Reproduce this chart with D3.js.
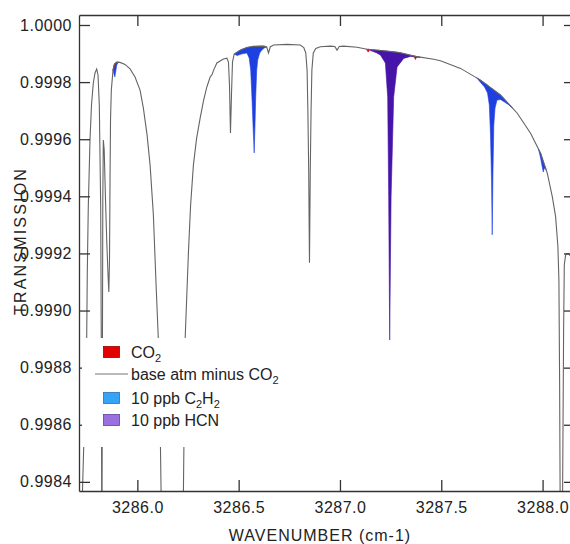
<!DOCTYPE html>
<html>
<head>
<meta charset="utf-8">
<title>Transmission</title>
<script src="https://cdn.jsdelivr.net/npm/d3@7"></script>
<style>
body { margin:0; background:#fff; }
text { font-family: Arial, "Liberation Sans", Helvetica, sans-serif; fill:#222; }
.axis path, .axis line { stroke:#333; stroke-width:1.3; }
</style>
</head>
<body>
<svg id="chart" width="570" height="544"></svg>
<script>
//---- data ----
var xTicks = [3286.0, 3286.5, 3287.0, 3287.5, 3288.0]
var yTicks = [0.9984, 0.9986, 0.9988, 0.9990, 0.9992, 0.9994, 0.9996, 0.9998, 1.0000]

// gray trace: base atm minus CO2
var baseWn = [3285.7144,3285.7292,3285.7499,3285.7529,3285.7578,3285.7662,3285.7737,3285.7826,3285.7910,3285.7994,
  3285.8058,3285.8122,3285.8191,3285.8231,3285.8246,3285.8270,3285.8295,3285.8320,3285.8364,3285.8428,
  3285.8488,3285.8552,3285.8592,3285.8626,3285.8651,3285.8676,3285.8715,3285.8799,3285.8873,3285.8982,
  3285.9145,3285.9392,3285.9639,3285.9886,3286.0133,3286.0297,3286.0479,3286.0628,3286.0791,3286.0924,
  3286.1038,3286.1122,3286.1171,3286.1221,3286.1715,3286.2209,3286.2273,3286.2357,3286.2520,3286.2629,
  3286.2767,3286.2926,3286.3099,3286.3272,3286.3430,3286.3593,3286.3677,3286.3766,3286.3924,3286.4087,
  3286.4250,3286.4418,3286.4497,3286.4547,3286.4596,3286.4645,3286.4695,3286.4779,3286.4927,3286.5075,
  3286.5407,3286.5718,3286.6212,3286.6385,3286.6474,3286.6558,3286.6721,3286.7383,3286.8041,3286.8214,
  3286.8312,3286.8377,3286.8416,3286.8456,3286.8495,3286.8535,3286.8574,3286.8614,3286.8683,3286.8807,
  3286.9029,3286.9523,3286.9746,3286.9854,3286.9968,3287.0180,3287.0843,3287.1337,3287.2157,3287.2982,
  3287.3724,3287.4628,3287.4959,3287.5948,3287.6936,3287.7924,3287.8750,3287.9407,3287.9901,3288.0232,
  3288.0479,3288.0643,3288.0756,3288.0806,3288.0840,3288.0865,3288.0914,3288.0988,3288.1038,3288.1072,
  3288.1137,3288.1260,3288.1384,3288.1483,3288.1631]
var baseT = [0.997917,0.998368,0.998897,0.999132,0.999363,0.999597,0.999720,0.999797,0.999832,0.999846,
  0.999825,0.999720,0.999363,0.998687,0.997987,0.998687,0.999387,0.999597,0.999562,0.999387,
  0.999247,0.999125,0.999065,0.999177,0.999457,0.999667,0.999772,0.999842,0.999863,0.999870,
  0.999869,0.999862,0.999846,0.999818,0.999772,0.999709,0.999615,0.999510,0.999335,0.999090,
  0.998897,0.998617,0.998368,0.998127,0.997637,0.998127,0.998368,0.998897,0.999202,0.999370,
  0.999510,0.999604,0.999674,0.999737,0.999783,0.999818,0.999825,0.999842,0.999867,0.999874,
  0.999881,0.999884,0.999870,0.999790,0.999622,0.999755,0.999870,0.999898,0.999905,0.999912,
  0.999921,0.999925,0.999926,0.999923,0.999902,0.999923,0.999930,0.999932,0.999930,0.999921,
  0.999902,0.999842,0.999702,0.999492,0.999167,0.999492,0.999702,0.999842,0.999902,0.999918,
  0.999924,0.999926,0.999925,0.999912,0.999925,0.999926,0.999922,0.999915,0.999910,0.999903,
  0.999890,0.999880,0.999875,0.999848,0.999807,0.999755,0.999691,0.999621,0.999551,0.999481,
  0.999399,0.999329,0.999224,0.999107,0.998757,0.998368,0.997812,0.998368,0.998932,0.999160,
  0.999195,0.999200,0.999191,0.999142,0.998967]

// filled absorption: [wavenumber, upper T, lower T]
var c2h2Lines = [
  [[3285.8799,0.999842,0.999842],[3285.8849,0.999860,0.999828],[3285.8888,0.999865,0.999818],
   [3285.8928,0.999867,0.999835],[3285.8982,0.999870,0.999860],[3285.9071,0.999870,0.999870]],
  [[3286.4779,0.999898,0.999898],[3286.4927,0.999905,0.999893],[3286.5125,0.999914,0.999898],
   [3286.5407,0.999921,0.999902],[3286.5520,0.999923,0.999884],[3286.5594,0.999923,0.999842],
   [3286.5654,0.999924,0.999748],[3286.5718,0.999925,0.999632],[3286.5767,0.999925,0.999552],
   [3286.5807,0.999925,0.999650],[3286.5841,0.999925,0.999748],[3286.5891,0.999925,0.999842],
   [3286.5940,0.999926,0.999877],[3286.6039,0.999926,0.999902],[3286.6148,0.999926,0.999912],
   [3286.6261,0.999926,0.999919],[3286.6385,0.999923,0.999923]],
  [[3287.6738,0.999816,0.999816],[3287.6936,0.999807,0.999799],[3287.7134,0.999797,0.999783],
   [3287.7282,0.999790,0.999762],[3287.7371,0.999784,0.999720],[3287.7430,0.999781,0.999615],
   [3287.7480,0.999778,0.999457],[3287.7514,0.999777,0.999265],[3287.7549,0.999775,0.999475],
   [3287.7593,0.999772,0.999650],[3287.7653,0.999769,0.999709],[3287.7751,0.999764,0.999737],
   [3287.7924,0.999755,0.999739],[3287.8122,0.999740,0.999730],[3287.8320,0.999724,0.999721],
   [3287.8517,0.999709,0.999709]],
  [[3287.9802,0.999565,0.999565],[3287.9901,0.999551,0.999534],[3287.9975,0.999535,0.999506],
   [3288.0035,0.999522,0.999485],[3288.0084,0.999512,0.999499],[3288.0173,0.999493,0.999493]]
]
var hcnLines = [
  [[3287.1401,0.999915,0.999915],[3287.1599,0.999913,0.999908],[3287.1796,0.999912,0.999903],
   [3287.1994,0.999911,0.999895],[3287.2241,0.999909,0.999867],[3287.2355,0.999909,0.999748],
   [3287.2404,0.999908,0.999398],[3287.2454,0.999908,0.998897],[3287.2523,0.999907,0.999398],
   [3287.2651,0.999906,0.999748],[3287.2819,0.999905,0.999853],[3287.3146,0.999900,0.999883],
   [3287.3477,0.999894,0.999890],[3287.3823,0.999889,0.999887],[3287.3971,0.999887,0.999887]]
]
var co2Lines = [
  [[3285.8799,0.999842,0.999842],[3285.8839,0.999855,0.999848],[3285.8878,0.999863,0.999855],[3285.8918,0.999867,0.999867]],
  [[3287.1302,0.999915,0.999915],[3287.1391,0.999915,0.999905],[3287.1475,0.999914,0.999914]],
  [[3287.3650,0.999891,0.999891],[3287.3724,0.999890,0.999879],[3287.3798,0.999889,0.999889]]
]

var legendNames = [[["CO",""],["2","sub"]],
                   [["base atm minus CO",""],["2","sub"]],
                   [["10 ppb C",""],["2","sub"],["H",""],["2","sub"]],
                   [["10 ppb HCN",""]]]
var legendKinds = ["box","line","box","box"]
var legendColors = ["#e30000","#777","#35a3f7","#9a70e0"]
var legendEdges = ["#a00000","#777","#2a6fb0","#5f4196"]

//---- chart ----
var svg = d3.select("#chart")
var plotLeft = 79, plotRight = 575, plotTop = 15, plotBottom = 491

var x = d3.scaleLinear().domain([3285.712, 3288.160]).range([plotLeft, plotRight])
var y = d3.scaleLinear().domain([0.998368, 1.000035]).range([plotBottom, plotTop])

svg.append("defs").append("clipPath").attr("id","plotClip")
  .append("rect").attr("x",plotLeft).attr("y",plotTop)
  .attr("width",plotRight-plotLeft).attr("height",plotBottom-plotTop)

var plot = svg.append("g").attr("clip-path","url(#plotClip)")

var band = d3.area()
  .x(function(d){ return x(d[0]) })
  .y0(function(d){ return y(d[1]) })
  .y1(function(d){ return y(d[2]) })

function drawBands(list, color){
  plot.selectAll(null).data(list).enter().append("path")
    .attr("d", band)
    .attr("fill", color)
    .attr("stroke", color)
    .attr("stroke-width", 0.6)
}
drawBands(c2h2Lines, "#1f40e0")
drawBands(hcnLines, "#4614a8")
drawBands(co2Lines, "#e30000")

var baseLine = d3.line()
  .x(function(d,i){ return x(baseWn[i]) })
  .y(function(d){ return y(d) })

plot.append("path")
  .datum(baseT)
  .attr("d", baseLine)
  .attr("fill","none")
  .attr("stroke","#646464")
  .attr("stroke-width",1.1)

// axes, ticks pointing inside
svg.append("g").attr("class","axis")
  .attr("transform","translate(0,"+plotBottom+")")
  .call(d3.axisBottom(x).tickValues(xTicks).tickFormat(d3.format(".1f"))
    .tickSizeInner(-11).tickSizeOuter(0).tickPadding(11))
svg.append("g").attr("class","axis")
  .attr("transform","translate(0,"+plotTop+")")
  .call(d3.axisTop(x).tickValues(xTicks).tickFormat("")
    .tickSizeInner(-11).tickSizeOuter(0))
svg.append("g").attr("class","axis")
  .attr("transform","translate("+plotLeft+",0)")
  .call(d3.axisLeft(y).tickValues(yTicks).tickFormat(d3.format(".4f"))
    .tickSizeInner(-11).tickSizeOuter(0).tickPadding(7))
svg.append("g").attr("class","axis")
  .attr("transform","translate("+plotRight+",0)")
  .call(d3.axisRight(y).tickValues(yTicks).tickFormat("")
    .tickSizeInner(-11).tickSizeOuter(0))

svg.selectAll(".axis text")
  .attr("font-size","16px")
  .attr("font-family","Arial, 'Liberation Sans', sans-serif")
  .attr("letter-spacing","0.5px")
  .attr("fill","#222")

svg.append("text")
  .attr("transform","translate(26,241)rotate(-90)")
  .attr("text-anchor","middle")
  .attr("font-size","16px")
  .attr("letter-spacing","2.2px")
  .text("TRANSMISSION")

svg.append("text")
  .attr("x",320).attr("y",541)
  .attr("text-anchor","middle")
  .attr("font-size","16px")
  .attr("letter-spacing","1px")
  .text("WAVENUMBER (cm-1)")

// legend, white box covering the data
var legend = svg.append("g")
legend.append("rect")
  .attr("x",82).attr("y",338).attr("width",210).attr("height",109)
  .attr("fill","#fff")

var rowY = [352, 374, 398, 420]
legendNames.forEach(function(parts,i){
  if(legendKinds[i]=="box"){
    legend.append("rect")
      .attr("x",103.5).attr("y",rowY[i]-5.5).attr("width",16).attr("height",11)
      .attr("fill",legendColors[i]).attr("stroke",legendEdges[i]).attr("stroke-width",0.8)
  } else {
    legend.append("line")
      .attr("x1",95).attr("x2",128).attr("y1",rowY[i]).attr("y2",rowY[i])
      .attr("stroke",legendColors[i]).attr("stroke-width",1.1)
  }
  var t = legend.append("text")
    .attr("x",131).attr("y",rowY[i]+5.5)
    .attr("font-size","16px")
  parts.forEach(function(p){
    var s = t.append("tspan").text(p[0])
    if(p[1]=="sub") s.attr("font-size","11px").attr("dy",4)
    else if(t.selectAll("tspan").size()>1) s.attr("dy",-4)
  })
})
</script>
</body>
</html>
